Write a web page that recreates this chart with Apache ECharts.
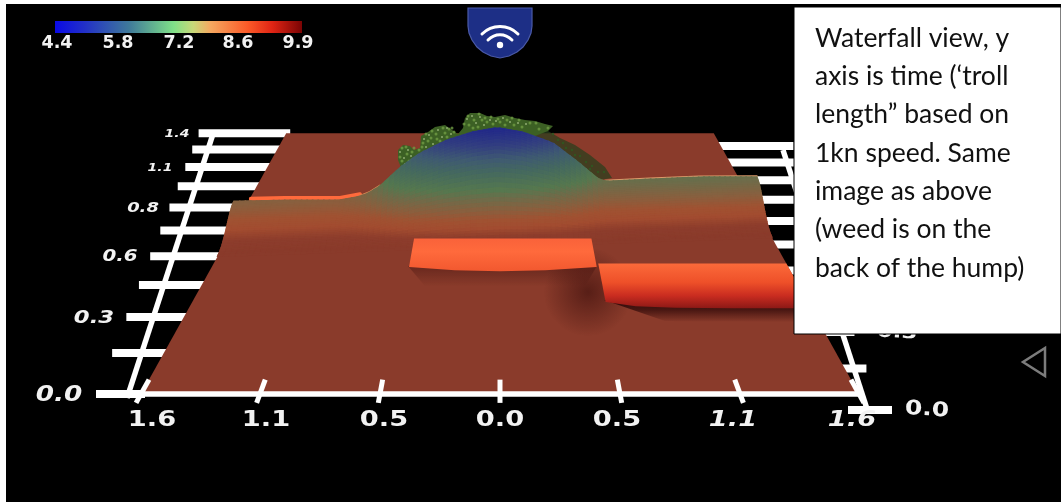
<!DOCTYPE html>
<html><head><meta charset="utf-8">
<style>html,body{margin:0;padding:0;background:#fff;overflow:hidden}#c{width:1061px;height:502px}</style>
<script src="https://cdn.jsdelivr.net/npm/echarts@6/dist/echarts.min.js"></script>
</head><body><div id="c"></div>
<script>
// ---------- values ----------
const legendLabels = ['4.4','5.8','7.2','8.6','9.9'];
const legendStops = [[0,'#0a0ae6'],[0.12,'#2230c8'],[0.3,'#3f7a9a'],[0.48,'#7fe088'],[0.56,'#c8d878'],[0.63,'#f5a860'],[0.78,'#fb5a28'],[0.88,'#e02414'],[1,'#7a0404']];
const lateralLabels = ['1.6','1.1','0.5','0.0','0.5','1.1','1.6'];
const lateralTicks = [-1.6,-1.07,-0.535,0,0.535,1.07,1.6];
const rangeTicks = [0,0.14,0.28,0.42,0.56,0.7,0.84,0.98,1.12,1.26,1.4];
const leftRangeLabels = [['0.0',0],['0.3',2],['0.6',4],['0.8',6],['1.1',8],['1.4',10]];
const crestLateral = [-1.6,-1.5,-1.3,-0.969,-0.85,-0.79,-0.73,-0.67,-0.608,-0.486,-0.322,-0.165,-0.018,0.14,0.325,0.49,0.597,0.647,0.925,1.24,1.6];
const crestHeight  = [35,34.5,34,32,36,41,49,61,74,93,110,120,125,118,102,73,52,47,48,49,47];
const crestRange   = [0.72,0.723,0.73,0.74,0.745,0.747,0.75,0.751,0.752,0.755,0.76,0.765,0.77,0.774,0.78,0.785,0.789,0.79,0.80,0.809,0.82];
const falloffDist  = [0,0.02,0.04,0.06,0.08,0.10,0.12,0.14,0.16];
const falloffShare = [1,0.93,0.80,0.62,0.42,0.25,0.11,0.03,0];
const heightLevels = [0,6,14,22,32,45,55,75,90,105,125];
const heightColors = ['#8a3b2b','#8d3d2c','#a24c30','#a05232','#8a5f3e','#6e6c4a','#55784f','#45695f','#3f5a72','#333f80','#20268a'];
const patchALateral = [-0.505,-0.25,0,0.25,0.537];
const patchANear    = [0.506,0.49,0.485,0.49,0.506];
const patchBLateral = [0.549,0.7,0.9,1.2,1.6];
const patchBNear    = [0.343,0.325,0.318,0.316,0.316];
const noteLines = ['Waterfall view, y','axis is time (‘troll','length” based on','1kn speed. Same','image as above','(weed is on the','back of the hump)'];
const weedOutline = [[398,150],[403,145],[410,146],[414,150],[420,148],[421,136],[428,132],[435,127],[445,125],[452,130],[458,134],[463,128],[465,118],[470,113],[480,113],[487,116],[495,117],[505,115],[515,118],[525,120],[535,121],[545,124],[553,126],[548,131],[530,138],[500,130],[470,134],[440,145],[410,168],[402,170],[398,160]];
const weedTrail = [[530,125],[548,131],[560,138],[575,145],[590,155],[605,167],[612,178],[600,180],[585,175],[560,155],[530,138]];
const weedLight = [[400,152],[404,158],[408,150],[405,164],[411,156],[424,139],[429,135],[433,144],[438,130],[442,137],[447,128],[451,134],[426,147],[467,119],[472,116],[476,123],[480,117],[484,125],[490,120],[496,121],[503,118],[510,122],[518,123],[526,124]];
const weedMid = [[402,148],[407,154],[412,152],[402,161],[409,161],[414,148],[423,143],[428,141],[431,138],[436,134],[440,141],[445,133],[449,129],[454,132],[419,150],[469,125],[474,120],[478,127],[482,120],[487,122],[493,124],[500,122],[507,120],[514,125],[522,127],[530,123],[539,129],[548,128],[400,157],[406,147],[404,167],[412,160],[422,147],[426,134],[432,131],[437,139],[443,128],[447,137],[452,128],[464,124],[468,116],[473,128],[479,114],[485,118],[491,117],[498,119],[505,125],[512,118],[519,120],[536,123]];
const weedDark = [[558,140],[566,148],[572,150],[580,156],[586,162],[592,166],[598,172],[604,172],[553,134],[563,143],[575,155],[590,169]];
const badgeOutline = [[468,8],[532,8],[532,26],[531,33],[528,40],[523,47],[517,52],[509,56],[500,58],[491,56],[483,52],[477,47],[472,40],[469,33],[468,26]];
// ---------- scene model ----------
const D = 2.061, HALF = 359, CX = 500;
const scale = t => D / (D + t);
function lerp(xs, ys, x) {
  if (x <= xs[0]) return ys[0];
  for (let i = 1; i < xs.length; i++) if (x <= xs[i]) return ys[i-1] + (ys[i]-ys[i-1])*(x-xs[i-1])/(xs[i]-xs[i-1]);
  return ys[ys.length-1];
}
function project(l, t, h) { const s = scale(t); return [CX + l/1.6*HALF*s, 644.5*s - 250.5 - (h||0)*s]; }
function rightRowY(t) { return 410 - (1-scale(t))/(1-scale(1.4))*264; }
function leftRowY(t) { return project(0,t,0)[1]; }
const leftAxisX = y => 127 + 0.332*(394-y);
const rightAxisX = y => 868 - 0.327*(410-y);
function hexToRgb(c){return [1,3,5].map(i=>parseInt(c.substr(i,2),16));}
function heightColor(h){
  let i=1; while(i<heightLevels.length-1 && h>heightLevels[i]) i++;
  const a=hexToRgb(heightColors[i-1]), b=hexToRgb(heightColors[i]);
  const f=Math.min(1,Math.max(0,(h-heightLevels[i-1])/(heightLevels[i]-heightLevels[i-1])));
  return 'rgb('+a.map((v,k)=>Math.round(v+(b[k]-v)*f)).join(',')+')';
}
// fine mesh used only for drawing the read profiles
const N_COL = 96, N_ROW = 34;
const meshCells = [];
for (let r=0;r<N_ROW;r++) for (let c=0;c<N_COL;c++) meshCells.push([c,r]);
const vertex = (c,r) => {
  const l=-1.6+3.2*c/N_COL, d=0.16*r/N_ROW;
  const t=lerp(crestLateral,crestRange,l)-d;
  return {l,t,h:lerp(crestLateral,crestHeight,l)*lerp(falloffDist,falloffShare,d)};
};
function poly(api, pts, style){ return {type:'polygon',shape:{points:pts.map(p=>api.coord(p))},style}; }
function bar(api,x1,x2,y,th){ const a=api.coord([x1,y-th/2]),b=api.coord([x2,y+th/2]); return {type:'rect',shape:{x:a[0],y:a[1],width:b[0]-a[0],height:b[1]-a[1]},style:{fill:'#fff'}}; }
function boldText(api,txt,x,y,size,sx,italic,rot){
  const p=api.coord([x,y]);
  return {type:'text',x:p[0],y:p[1],scaleX:sx,rotation:rot||0,style:{text:txt,fill:'#f2f2f2',textAlign:'center',textVerticalAlign:'middle',
    font:(italic?'italic ':'')+'bold '+size+'px "DejaVu Sans"'}};
}
const vGrad = (stops,x0,y0,x2,y2)=>({type:'linear',x:x0||0,y:y0||0,x2:x2||0,y2:y2===undefined?1:y2,colorStops:stops.map(s=>({offset:s[0],color:s[1]}))});

function renderFloorAndAxes(params, api){
  const ch=[];
  rangeTicks.forEach((t)=>{ const y=leftRowY(t), ax=leftAxisX(y);
    ch.push(bar(api, ax-(15+16*(y-134)/260), Math.min(ax+90, project(-1.6,t)[0]+4), y, 8)); });
  rangeTicks.forEach((t)=>{ const y=rightRowY(t), ax=rightAxisX(y);
    ch.push(bar(api, t===0?848:ax-110, ax+(t===0?24:12), y, 8)); });
  ch.push({type:'line',shape:{x1:api.coord([127,398])[0],y1:api.coord([127,398])[1],x2:api.coord([213,134])[0],y2:api.coord([213,134])[1]},style:{stroke:'#fff',lineWidth:5.5}});
  ch.push({type:'line',shape:{x1:api.coord([868,412])[0],y1:api.coord([868,412])[1],x2:api.coord([783,150])[0],y2:api.coord([783,150])[1]},style:{stroke:'#fff',lineWidth:5.5}});
  ch.push(poly(api,[project(-1.6,0),project(1.6,0),project(1.6,1.4),project(-1.6,1.4)],{fill:'#8a3b2b'}));
  ch.push(bar(api,project(-1.6,0)[0]-4,project(1.6,0)[0]+4,394,5.5));
  lateralTicks.forEach(l=>{ const a=api.coord(project(l,0.047)),b=api.coord(project(l,-0.028));
    ch.push({type:'line',shape:{x1:a[0],y1:a[1],x2:b[0],y2:b[1]},style:{stroke:'#fff',lineWidth:5}}); });
  const bx=[152,266,384,500,617,733,852];
  lateralLabels.forEach((s,i)=>ch.push(boldText(api,s,bx[i],421,20.5,1.33,i>=5)));
  const ly=[[59,396,21,1.25],[94,318,17.5,1.3],[120,257,15.5,1.28],[143,208,14,1.28],[160,168,10,1.4],[177,134,10,1.4]];
  leftRangeLabels.forEach((e,i)=>ch.push(boldText(api,e[0],ly[i][0],ly[i][1],ly[i][2],ly[i][3],true)));
  ch.push(boldText(api,'0.3',897,333,17,1.35,false,-0.05));
  ch.push(boldText(api,'0.0',927,410,20,1.25,false,-0.07));
  return {type:'group',children:ch};
}
function renderWeedBase(params,api){ return {type:'group',children:[
  poly(api,weedTrail,{fill:'rgba(40,62,28,0.72)'}),
  poly(api,weedOutline,{fill:'#3c6024'})
]}; }
function renderCell(params,api){
  const c=api.value(0), r=api.value(1);
  const v=[vertex(c,r),vertex(c+1,r),vertex(c+1,r+1),vertex(c,r+1)];
  const h=(v[0].h+v[1].h+v[2].h+v[3].h)/4, col=heightColor(h);
  return poly(api,v.map(p=>project(p.l,p.t,p.h)),{fill:col,stroke:col,lineWidth:1.5});
}
function renderRims(params,api){
  const line=(from,to,col,w,extra)=>{ const pts=[];
    crestLateral.forEach((l,i)=>{ if(l>=from&&l<=to) pts.push(api.coord(project(l,crestRange[i],crestHeight[i]+extra))); });
    return {type:'polyline',shape:{points:pts},style:{stroke:col,fill:'none',lineWidth:w,lineCap:'round'}}; };
  return {type:'group',children:[
    line(-1.5,-0.85,'#ff6a3c',4,3),
    line(-0.85,-0.7,'#d68a55',1.6,1),
    line(0.6,1.6,'#dd9c6c',2,1)
  ]};
}
function patchPoly(lats,nears,far){
  const pts=lats.map(l=>project(l,far));
  for(let i=lats.length-1;i>=0;i--) pts.push(project(lats[i],nears[i]));
  return pts;
}
function renderPatches(params,api){
  const ch=[];
  const c=api.coord([588,292]);
  ch.push({type:'circle',shape:{cx:c[0],cy:c[1],r:44},style:{fill:{type:'radial',x:0.5,y:0.5,r:0.5,colorStops:[{offset:0,color:'rgba(55,12,10,0.6)'},{offset:1,color:'rgba(55,12,10,0)'}]}}});
  ch.push(poly(api,[[408,266],[597,266],[585,286],[425,286]],{fill:vGrad([[0,'rgba(55,12,10,0.4)'],[1,'rgba(55,12,10,0)']])}));
  ch.push(poly(api,[[604,300],[796,304],[796,322],[665,321]],{fill:vGrad([[0,'rgba(45,8,8,0.95)'],[0.45,'rgba(45,8,8,0.7)'],[1,'rgba(45,8,8,0)']])}));
  ch.push(poly(api,patchPoly(patchALateral,patchANear,0.656),{fill:vGrad([[0,'#f9623a'],[0.4,'#ff6a3c'],[1,'#f2582f']])}));
  ch.push(poly(api,patchPoly(patchBLateral,patchBNear,0.523),{fill:vGrad([[0,'#fb6a3a'],[0.42,'#ee5029'],[0.72,'#c92c20'],[1,'#8c1916']])}));
  return {type:'group',children:ch};
}
const option = {
  animation:false, backgroundColor:'#ffffff',
  grid:{left:0,right:0,top:0,bottom:0},
  xAxis:{type:'value',min:0,max:1061,show:false},
  yAxis:{type:'value',min:0,max:502,inverse:true,show:false},
  graphic:[
    {type:'rect',z:0,shape:{x:6,y:4,width:1055,height:498},style:{fill:'#000'}},
    {type:'rect',z:90,shape:{x:55,y:21,width:247,height:12},style:{fill:vGrad(legendStops,0,0,1,0)}},
    ...legendLabels.map((s,i)=>({type:'text',z:90,x:[57,118,179,238,298][i],y:43,style:{text:s,fill:'#f2f2f2',textAlign:'center',textVerticalAlign:'middle',font:'bold 17.5px "DejaVu Sans"'}})),
    {type:'polygon',z:90,shape:{points:badgeOutline},style:{fill:'#1d2f86',stroke:'#4a5aa8',lineWidth:1.2}},
    {type:'bezierCurve',z:91,shape:{x1:482,y1:34,cpx1:492,cpy1:24,cpx2:508,cpy2:24,x2:518,y2:34},style:{fill:'none',stroke:'#fff',lineWidth:3,lineCap:'round'}},
    {type:'bezierCurve',z:91,shape:{x1:488,y1:40,cpx1:495,cpy1:33,cpx2:505,cpy2:33,x2:512,y2:40},style:{fill:'none',stroke:'#fff',lineWidth:3,lineCap:'round'}},
    {type:'circle',z:91,shape:{cx:500,cy:45,r:3.2},style:{fill:'#fff'}},
    {type:'polygon',z:90,shape:{points:[[1045,348],[1045,376],[1023,362]]},style:{fill:'none',stroke:'#7c7c7c',lineWidth:2.5}},
    {type:'rect',z:95,shape:{x:794,y:7,width:267,height:327},style:{fill:'#fff',stroke:'#000',lineWidth:1}},
    ...noteLines.map((s,i)=>({type:'text',z:96,x:815,y:[38,76,114,153,191,229,268][i],style:{text:s,fill:'#111',textVerticalAlign:'middle',font:'26.5px Lato'}}))
  ],
  series:[
    {type:'custom',z:2,coordinateSystem:'cartesian2d',data:[[0,0]],renderItem:renderFloorAndAxes,silent:true},
    {type:'custom',z:3,coordinateSystem:'cartesian2d',data:[[0,0]],renderItem:renderWeedBase,silent:true},
    {type:'scatter',z:4,data:weedDark,symbolSize:2.5,itemStyle:{color:'#2f5a22'},silent:true},
    {type:'scatter',z:4,data:weedMid,symbolSize:3,itemStyle:{color:'#6f9c44'},silent:true},
    {type:'scatter',z:4,data:weedLight,symbolSize:2,itemStyle:{color:'#a4bf84'},silent:true},
    {type:'custom',z:5,coordinateSystem:'cartesian2d',data:[[0,0]],renderItem:renderRims,silent:true},
    {type:'custom',z:6,coordinateSystem:'cartesian2d',data:meshCells,renderItem:renderCell,silent:true},
    {type:'custom',z:7,coordinateSystem:'cartesian2d',data:[[0,0]],renderItem:renderPatches,silent:true}
  ]
};
echarts.init(document.getElementById('c')).setOption(option);
</script></body></html>
